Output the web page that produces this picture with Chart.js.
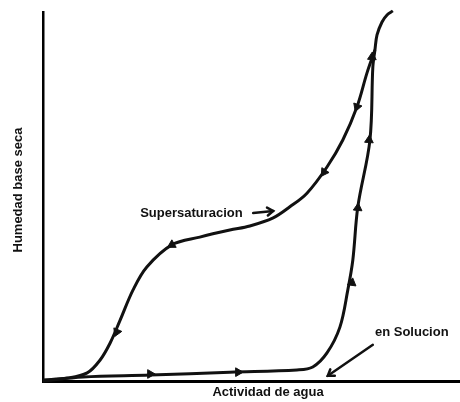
<!DOCTYPE html>
<html>
<head>
<meta charset="utf-8">
<script src="https://cdn.jsdelivr.net/npm/chart.js@4"></script>
<style>
  html, body { margin: 0; padding: 0; background: #fff; overflow: hidden; }
  #wrap { width: 460px; height: 402px; position: relative; }
  canvas { display: block; }
</style>
</head>
<body>
<div id="wrap"><canvas id="isoterma"></canvas></div>
<script>
// actividad de agua (0..1) y humedad relativa (0..1)
const adsX = [0, 0.096, 0.257, 0.448, 0.609, 0.647, 0.681, 0.712, 0.731, 0.743, 0.755, 0.784, 0.791, 0.796, 0.801, 0.813, 0.825, 0.839];
const adsY = [0, 0.011, 0.016, 0.024, 0.030, 0.038, 0.076, 0.146, 0.247, 0.328, 0.472, 0.653, 0.851, 0.897, 0.938, 0.973, 0.992, 1.003];

const desX = [0.796, 0.777, 0.753, 0.719, 0.681, 0.633, 0.592, 0.552, 0.496, 0.448, 0.376, 0.309, 0.249, 0.216, 0.185, 0.161, 0.137, 0.106, 0.058, 0];
const desY = [0.897, 0.835, 0.743, 0.653, 0.580, 0.509, 0.472, 0.442, 0.420, 0.409, 0.390, 0.369, 0.309, 0.247, 0.165, 0.103, 0.057, 0.022, 0.008, 0.003];

// flechas sobre las curvas
const arrowX = [0.257, 0.468, 0.741, 0.755, 0.782, 0.789, 0.753, 0.674, 0.309, 0.177];
const arrowY = [0.019, 0.024, 0.266, 0.469, 0.653, 0.878, 0.743, 0.566, 0.369, 0.133];
const arrowRot = [90, 90, 8, 5, 4, 3, 200, 214, 240, 204];

// textos
const xTitle = 'Actividad de agua';
const yTitle = 'Humedad base seca';
const notes = ['Supersaturacion', 'en Solucion'];
const noteX = [0.233, 0.796];
const noteY = [0.455, 0.133];
const noteArrowFrom = [[0.504, 0.455], [0.791, 0.098]];
const noteArrowTo = [[0.552, 0.461], [0.683, 0.014]];

const pts = (xs, ys) => xs.map((x, i) => ({x: x, y: ys[i]}));
const ink = '#111';
const font = 'bold 13px "Liberation Sans", Arial, sans-serif';

// textos y flechas de las notas
const notesPlugin = {
  id: 'notes',
  afterDatasetsDraw(chart) {
    const {ctx, scales: {x, y}} = chart;
    ctx.save();
    ctx.fillStyle = ink;
    ctx.strokeStyle = ink;
    ctx.font = font;
    ctx.textBaseline = 'middle';
    ctx.textAlign = 'left';
    notes.forEach((t, i) => {
      ctx.fillText(t, x.getPixelForValue(noteX[i]), y.getPixelForValue(noteY[i]));
      const x0 = x.getPixelForValue(noteArrowFrom[i][0]), y0 = y.getPixelForValue(noteArrowFrom[i][1]);
      const x1 = x.getPixelForValue(noteArrowTo[i][0]), y1 = y.getPixelForValue(noteArrowTo[i][1]);
      const a = Math.atan2(y1 - y0, x1 - x0);
      ctx.lineWidth = 2.5;
      ctx.lineCap = 'round';
      ctx.beginPath();
      ctx.moveTo(x0, y0);
      ctx.lineTo(x1, y1);
      ctx.stroke();
      ctx.beginPath();
      ctx.moveTo(x1 - 7 * Math.cos(a - 0.6), y1 - 7 * Math.sin(a - 0.6));
      ctx.lineTo(x1, y1);
      ctx.lineTo(x1 - 7 * Math.cos(a + 0.6), y1 - 7 * Math.sin(a + 0.6));
      ctx.stroke();
    });
    // titulos de ejes
    ctx.textAlign = 'center';
    ctx.fillText(xTitle, 268, 392);
    ctx.translate(18, 190);
    ctx.rotate(-Math.PI / 2);
    ctx.fillText(yTitle, 0, 0);
    ctx.restore();
  }
};

new Chart(document.getElementById('isoterma'), {
  type: 'scatter',
  data: {
    datasets: [{
      label: 'en Solucion',
      data: pts(adsX, adsY),
      showLine: true,
      borderColor: ink,
      borderWidth: 3,
      pointRadius: 0,
      tension: 0.35
    }, {
      label: 'Supersaturacion',
      data: pts(desX, desY),
      showLine: true,
      borderColor: ink,
      borderWidth: 3,
      pointRadius: 0,
      tension: 0.35
    }, {
      label: 'flechas',
      data: pts(arrowX, arrowY),
      showLine: false,
      pointStyle: 'triangle',
      pointRadius: 5,
      pointRotation: arrowRot,
      backgroundColor: ink,
      borderColor: ink,
      borderWidth: 1
    }]
  },
  options: {
    responsive: true,
    maintainAspectRatio: false,
    animation: false,
    clip: false,
    layout: { autoPadding: false, padding: { left: 43, top: 12, right: 0, bottom: 21 } },
    plugins: { legend: { display: false }, tooltip: { enabled: false } },
    scales: {
      x: {
        type: 'linear', min: 0, max: 1,
        grid: { display: false },
        ticks: { display: false },
        border: { display: true, color: '#000', width: 3 },
        afterFit: s => { s.height = 0; s.paddingLeft = 0; s.paddingRight = 0; }
      },
      y: {
        type: 'linear', min: 0, max: 1,
        grid: { display: false },
        ticks: { display: false },
        border: { display: true, color: '#000', width: 2.5 },
        afterFit: s => { s.width = 0; s.paddingTop = 0; s.paddingBottom = 0; }
      }
    }
  },
  plugins: [notesPlugin]
});
</script>
</body>
</html>
